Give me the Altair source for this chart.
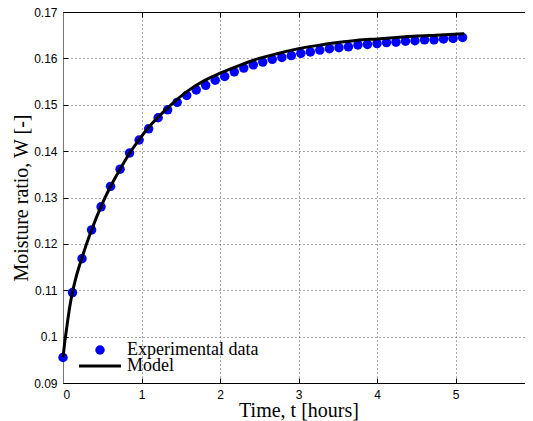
import altair as alt
import pandas as pd

exp_t = [0.000, 0.121, 0.242, 0.364, 0.485, 0.606, 0.727, 0.848, 0.970, 1.091,
         1.212, 1.333, 1.454, 1.576, 1.697, 1.818, 1.939, 2.060, 2.182, 2.303,
         2.424, 2.545, 2.666, 2.788, 2.909, 3.030, 3.151, 3.272, 3.394, 3.515,
         3.636, 3.757, 3.878, 4.000, 4.121, 4.242, 4.363, 4.484, 4.606, 4.727,
         4.848, 4.969, 5.090]
exp_w = [0.0955, 0.1095, 0.1168, 0.1230, 0.1280, 0.1324, 0.1361, 0.1396, 0.1424, 0.1448,
         0.1472, 0.1489, 0.1505, 0.1520, 0.1532, 0.1542, 0.1553, 0.1561, 0.1571, 0.1579,
         0.1586, 0.1592, 0.1598, 0.1602, 0.1606, 0.1611, 0.1614, 0.1618, 0.1621, 0.1623,
         0.1625, 0.1629, 0.1630, 0.1632, 0.1634, 0.1635, 0.1637, 0.1638, 0.1640, 0.1640,
         0.1642, 0.1643, 0.1645]

# Model curve
model_t = [0.0, 0.02, 0.04, 0.06, 0.08, 0.10, 0.12, 0.16, 0.20, 0.242, 0.30, 0.364,
           0.485, 0.60, 0.73, 0.85, 0.97, 1.10, 1.30, 1.60, 1.80, 2.00, 2.25, 2.50,
           2.75, 3.00, 3.25, 3.50, 3.75, 4.00, 4.25, 4.50, 4.75, 5.11]
model_w = [0.0955, 0.0985, 0.1010, 0.1035, 0.1058, 0.1078, 0.1095, 0.1124, 0.1148, 0.1170,
           0.1200, 0.1230, 0.1281, 0.1322, 0.1362, 0.1396, 0.1425, 0.1453, 0.1488, 0.1531,
           0.1552, 0.1568, 0.1585, 0.1600, 0.1611, 0.1621, 0.1628, 0.1634, 0.1639, 0.1642,
           0.1645, 0.1648, 0.1650, 0.1653]

series = ["Experimental data", "Model"]
x_ticks = [0, 1, 2, 3, 4, 5, 6]
y_ticks = [0.09, 0.10, 0.11, 0.12, 0.13, 0.14, 0.15, 0.16, 0.17]

exp_df = pd.DataFrame({"t": exp_t, "W": exp_w, "series": series[0]})
model_df = pd.DataFrame({"t": model_t, "W": model_w, "series": series[1]})

W, H = 462, 371          # visible plot size (the frame continues past the page edge)
XR = 471                 # full x range for 0..6 hours
xs = alt.Scale(domain=[0, 6], range=[0, XR], nice=False, zero=False)
ys = alt.Scale(domain=[0.09, 0.17], nice=False, zero=False)

label_font = dict(labelFont="Liberation Sans", labelFontSize=12, labelColor="black")
title_font = dict(titleFont="Liberation Serif", titleFontSize=20, titleFontWeight="normal",
                  titleColor="black")

points = alt.Chart(exp_df).mark_point(filled=True, size=90, opacity=1, color="#0000ff").encode(
    x=alt.X("t:Q", scale=xs, axis=alt.Axis(orient="bottom", values=x_ticks, format="d",
            title="Time, t [hours]", ticks=False, grid=True, gridDash=[1, 3],
            gridColor="#555", gridWidth=1, domainColor="black", domainWidth=1,
            labelPadding=6, titlePadding=0, **label_font, **title_font)),
    y=alt.Y("W:Q", scale=ys, axis=alt.Axis(orient="left", values=y_ticks, format="~g",
            title="Moisture ratio, W [-]", ticks=False, grid=True, gridDash=[1, 3],
            gridColor="#555", gridWidth=1, domainColor="#777", domainWidth=1,
            labelPadding=6, titlePadding=2, **label_font, **title_font)),
)

line = alt.Chart(model_df).mark_line(strokeWidth=3, interpolate="monotone", color="black").encode(
    x=alt.X("t:Q", scale=xs, axis=alt.Axis(orient="top", offset=-H, values=x_ticks,
            labels=False, ticks=True, tickSize=5, tickColor="black", domain=False,
            grid=False, title=None)),
    y=alt.Y("W:Q", scale=ys, axis=alt.Axis(orient="right", offset=-W, values=y_ticks,
            labels=False, ticks=True, tickSize=5, tickColor="black", domain=False,
            grid=False, title=None)),
)

frame = alt.Chart(model_df).mark_line(strokeOpacity=0).encode(
    x=alt.X("t:Q", scale=xs, axis=alt.Axis(orient="bottom", offset=-H, values=x_ticks,
            labels=False, ticks=True, tickSize=5, tickColor="black", domain=True,
            domainColor="black", grid=False, title=None)),
    y=alt.Y("W:Q", scale=ys, axis=None),
)

# Legend (drawn inside the plot, lower left)
leg_df = pd.DataFrame({"label": series})
leg_font = dict(font="Liberation Serif", fontSize=18, color="black", align="left",
                baseline="middle")
leg_dot = alt.Chart(leg_df).transform_filter(alt.datum.label == series[0]).mark_point(
    filled=True, size=90, opacity=1, color="#0000ff").encode(
    x=alt.value(37), y=alt.value(338))
leg_line = alt.Chart(leg_df).transform_filter(alt.datum.label == series[1]).mark_rule(
    color="black", strokeWidth=3).encode(
    x=alt.value(16), x2=alt.value(58), y=alt.value(354))
leg_text1 = alt.Chart(leg_df).transform_filter(alt.datum.label == series[0]).mark_text(
    **leg_font).encode(x=alt.value(64), y=alt.value(338), text="label:N")
leg_text2 = alt.Chart(leg_df).transform_filter(alt.datum.label == series[1]).mark_text(
    **leg_font).encode(x=alt.value(64), y=alt.value(354), text="label:N")

chart = alt.layer(points, line, frame, leg_dot, leg_line, leg_text1, leg_text2).resolve_scale(
    x="independent", y="independent"
).properties(
    width=W, height=H,
    autosize=alt.AutoSizeParams(type="none"),
    padding={"left": 55, "top": 4, "right": 0, "bottom": 38},
).configure_view(stroke=None).configure(background="white")

chart.save("out.html", embed_options={"renderer": "svg", "actions": False})
